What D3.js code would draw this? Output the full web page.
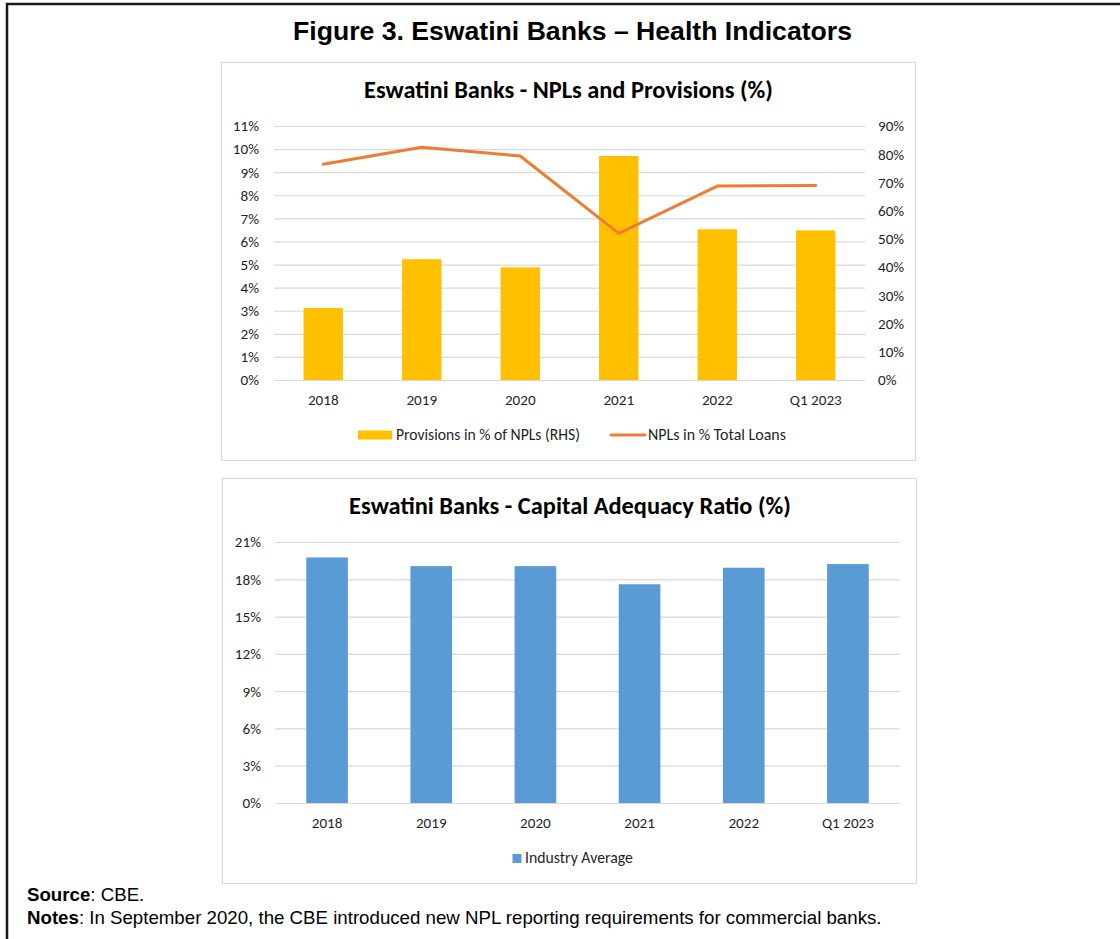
<!DOCTYPE html>
<html>
<head>
<meta charset="utf-8">
<script src="https://cdn.jsdelivr.net/npm/d3@7"></script>
<style>
  body { margin: 0; background: #fff; }
  svg { display: block; }
</style>
</head>
<body>
<svg id="fig" width="1120" height="939"></svg>
<script>
// ---- data ----
const categories = ["2018", "2019", "2020", "2021", "2022", "Q1 2023"];
const provisionsPctNPLs = [25.5, 42.8, 39.9, 79.4, 53.4, 53.0];   // right axis
const nplsPctLoans = [9.34, 10.08, 9.70, 6.35, 8.40, 8.42];        // left axis
const carIndustryAverage = [19.76, 19.06, 19.06, 17.6, 18.93, 19.22];
const nplTicks = [0, 1, 2, 3, 4, 5, 6, 7, 8, 9, 10, 11];
const provTicks = [0, 10, 20, 30, 40, 50, 60, 70, 80, 90];
const carTicks = [0, 3, 6, 9, 12, 15, 18, 21];

const FIG_TITLE = "Figure 3. Eswatini Banks \u2013 Health Indicators";
const NPL_TITLE = "Eswatini Banks - NPLs and Provisions (%)";
const CAR_TITLE = "Eswatini Banks - Capital Adequacy Ratio (%)";

const COL_BAR = "#FFC000", COL_LINE = "#ED7D31", COL_BLUE = "#5B9BD5", COL_GRID = "#D9D9D9";
const COL_TEXT = "#1f1f1f";
const CHART_FONT = "Carlito, Lato, sans-serif";
const DOC_FONT = "'Liberation Sans', Arial, sans-serif";

const svg = d3.select("#fig");
const pct = d => d + "%";

// scale a text element's font so it spans the given width
function fitWidth(sel, target) {
  const w = sel.node().getComputedTextLength();
  const fs = parseFloat(sel.attr("font-size"));
  sel.attr("font-size", (fs * target / w).toFixed(2));
  return sel;
}

// tick label size: the widest category label is about 52px wide
const probe = svg.append("text").attr("font-family", CHART_FONT).attr("font-size", 13).text("Q1 2023");
const TICK_SIZE = +(13 * 52 / probe.node().getComputedTextLength()).toFixed(2);
probe.remove();

// shared styling for axis tick labels
function styleAxis(g) {
  g.attr("font-family", CHART_FONT).attr("font-size", TICK_SIZE);
  g.selectAll(".tick text").attr("fill", COL_TEXT);
  g.select(".domain").remove();
  return g;
}

// ---- outer frame ----
svg.append("line").attr("x1", 6).attr("x2", 1120).attr("y1", 4).attr("y2", 4)
  .attr("stroke", "#1a1a1a").attr("stroke-width", 2.5);
svg.append("line").attr("x1", 7).attr("x2", 7).attr("y1", 3).attr("y2", 939)
  .attr("stroke", "#1a1a1a").attr("stroke-width", 2.5);

fitWidth(svg.append("text").attr("x", 572.5).attr("y", 39.5).attr("text-anchor", "middle")
  .attr("font-family", DOC_FONT).attr("font-weight", "bold").attr("font-size", 24)
  .attr("fill", "#000").text(FIG_TITLE), 559);

// ---- panel 1: NPLs and provisions ----
svg.append("rect").attr("x", 221.5).attr("y", 62.5).attr("width", 694).attr("height", 398)
  .attr("fill", "#fff").attr("stroke", COL_GRID).attr("stroke-width", 1.2);

fitWidth(svg.append("text").attr("x", 568.5).attr("y", 98).attr("text-anchor", "middle")
  .attr("font-family", CHART_FONT).attr("font-weight", "bold").attr("font-size", 20)
  .attr("fill", "#000").text(NPL_TITLE), 409);

const x1 = d3.scaleBand().domain(categories).range([274, 865]).paddingInner(0.6).paddingOuter(0.3);
const yL = d3.scaleLinear().domain([0, 11]).range([380, 126]);
const yR = d3.scaleLinear().domain([0, 90]).range([380, 126]);

const gL = svg.append("g").attr("transform", "translate(274,0)")
  .call(d3.axisLeft(yL).tickValues(nplTicks).tickFormat(pct).tickSize(-(865 - 274)).tickPadding(15))
  .call(styleAxis);
gL.selectAll(".tick line").attr("stroke", COL_GRID).attr("stroke-width", 1.2);

svg.append("g").attr("transform", "translate(865,0)")
  .call(d3.axisRight(yR).tickValues(provTicks).tickFormat(pct).tickSize(0).tickPadding(13))
  .call(styleAxis);

svg.append("g").attr("transform", "translate(0,380)")
  .call(d3.axisBottom(x1).tickSize(0).tickPadding(14))
  .call(styleAxis);

svg.append("g").selectAll("rect").data(categories).join("rect")
  .attr("x", d => x1(d)).attr("width", x1.bandwidth())
  .attr("y", (d, i) => yR(provisionsPctNPLs[i]))
  .attr("height", (d, i) => yR(0) - yR(provisionsPctNPLs[i]))
  .attr("fill", COL_BAR);

svg.append("path")
  .datum(nplsPctLoans)
  .attr("d", d3.line().x((d, i) => x1(categories[i]) + x1.bandwidth() / 2).y(d => yL(d)))
  .attr("fill", "none").attr("stroke", COL_LINE).attr("stroke-width", 3)
  .attr("stroke-linejoin", "round").attr("stroke-linecap", "round");

// legend
svg.append("rect").attr("x", 358).attr("y", 430.5).attr("width", 34).attr("height", 9).attr("fill", COL_BAR);
fitWidth(svg.append("text").attr("x", 396).attr("y", 440).attr("font-family", CHART_FONT)
  .attr("font-size", 13).attr("fill", COL_TEXT).text("Provisions in % of NPLs (RHS)"), 184);
svg.append("line").attr("x1", 611).attr("x2", 645).attr("y1", 435).attr("y2", 435)
  .attr("stroke", COL_LINE).attr("stroke-width", 3).attr("stroke-linecap", "round");
fitWidth(svg.append("text").attr("x", 648).attr("y", 440).attr("font-family", CHART_FONT)
  .attr("font-size", 13).attr("fill", COL_TEXT).text("NPLs in % Total Loans"), 138);

// ---- panel 2: capital adequacy ratio ----
svg.append("rect").attr("x", 222.5).attr("y", 478.5).attr("width", 694).attr("height", 405)
  .attr("fill", "#fff").attr("stroke", COL_GRID).attr("stroke-width", 1.2);

fitWidth(svg.append("text").attr("x", 570).attr("y", 514).attr("text-anchor", "middle")
  .attr("font-family", CHART_FONT).attr("font-weight", "bold").attr("font-size", 20)
  .attr("fill", "#000").text(CAR_TITLE), 442);

const x2 = d3.scaleBand().domain(categories).range([275, 900]).paddingInner(0.6).paddingOuter(0.3);
const y2 = d3.scaleLinear().domain([0, 21]).range([803, 542]);

const gY2 = svg.append("g").attr("transform", "translate(275,0)")
  .call(d3.axisLeft(y2).tickValues(carTicks).tickFormat(pct).tickSize(-(900 - 275)).tickPadding(14))
  .call(styleAxis);
gY2.selectAll(".tick line").attr("stroke", COL_GRID).attr("stroke-width", 1.2);

svg.append("g").attr("transform", "translate(0,803)")
  .call(d3.axisBottom(x2).tickSize(0).tickPadding(14))
  .call(styleAxis);

svg.append("g").selectAll("rect").data(categories).join("rect")
  .attr("x", d => x2(d)).attr("width", x2.bandwidth())
  .attr("y", (d, i) => y2(carIndustryAverage[i]))
  .attr("height", (d, i) => y2(0) - y2(carIndustryAverage[i]))
  .attr("fill", COL_BLUE);

svg.append("rect").attr("x", 512.5).attr("y", 854).attr("width", 9).attr("height", 9).attr("fill", COL_BLUE);
fitWidth(svg.append("text").attr("x", 525).attr("y", 863).attr("font-family", CHART_FONT)
  .attr("font-size", 13).attr("fill", COL_TEXT).text("Industry Average"), 108);

// ---- source and notes ----
const src = svg.append("text").attr("x", 27).attr("y", 901).attr("font-family", DOC_FONT)
  .attr("font-size", 16).attr("fill", "#000");
src.append("tspan").attr("font-weight", "bold").text("Source");
src.append("tspan").text(": CBE.");

const notes = svg.append("text").attr("x", 27).attr("y", 924).attr("font-family", DOC_FONT)
  .attr("font-size", 16).attr("fill", "#000");
notes.append("tspan").attr("font-weight", "bold").text("Notes");
notes.append("tspan").text(": In September 2020, the CBE introduced new NPL reporting requirements for commercial banks.");
fitWidth(notes, 855);
src.attr("font-size", notes.attr("font-size"));
</script>
</body>
</html>
